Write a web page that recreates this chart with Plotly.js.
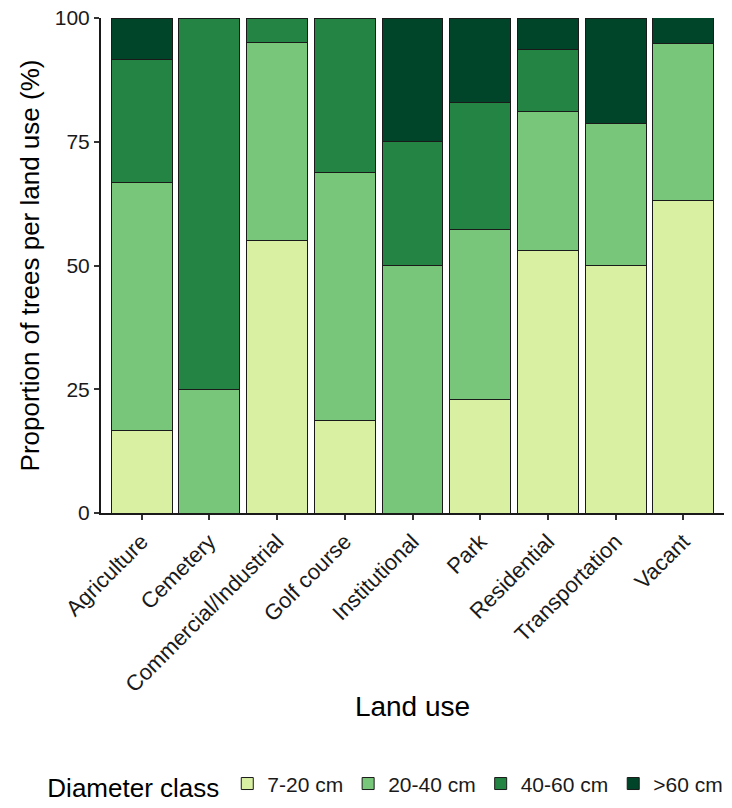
<!DOCTYPE html>
<html>
<head>
<meta charset="utf-8">
<script src="https://cdn.plot.ly/plotly-3.0.1.min.js"></script>
<style>html,body{margin:0;padding:0;background:#fff;}#chart{width:732px;height:808px;}</style>
</head>
<body>
<div id="chart"></div>
<script>
const landUse = ["Agriculture","Cemetery","Commercial/Industrial","Golf course","Institutional","Park","Residential","Transportation","Vacant"];
const classNames = ["7-20 cm","20-40 cm","40-60 cm",">60 cm"];
const d7to20  = [16.7, 0, 55, 18.75, 0, 22.9, 53.1, 50, 63.2];
const d20to40 = [50, 25, 40, 50, 50, 34.3, 28.1, 28.6, 31.6];
const d40to60 = [25, 75, 5, 31.25, 25, 25.7, 12.5, 0, 0];
const dOver60 = [8.3, 0, 0, 0, 25, 17.1, 6.3, 21.4, 5.3];
const colors = ["#d9f0a3","#78c679","#238443","#004529"];
const series = [d7to20, d20to40, d40to60, dOver60];

const traces = series.map((vals, i) => ({
  type: "bar",
  name: classNames[i],
  x: landUse,
  y: vals,
  width: 0.9,
  marker: {color: colors[i], line: {color: "#1a1a1a", width: 1}},
  hoverinfo: "x+y+name"
}));

const font = "Liberation Sans, Arial, sans-serif";
const layout = {
  width: 732, height: 808,
  margin: {l: 101, r: 8, t: 18, b: 295},
  barmode: "stack",
  bargap: 0,
  paper_bgcolor: "#fff",
  plot_bgcolor: "#fff",
  font: {family: font, color: "#1a1a1a", size: 21},
  showlegend: true,
  xaxis: {
    type: "category",
    range: [-0.6, 8.6],
    tickangle: -45,
    ticks: "outside", ticklen: 5, tickwidth: 2, tickcolor: "#333",
    showline: true, linecolor: "#1a1a1a", linewidth: 2,
    showgrid: false, zeroline: false,
    tickfont: {family: font, size: 22, color: "#1a1a1a"},
    title: {text: "Land use", font: {family: font, size: 28, color: "#000"}, standoff: 0},
    automargin: false
  },
  yaxis: {
    range: [0, 100],
    tickvals: [0, 25, 50, 75, 100],
    ticks: "outside", ticklen: 5, tickwidth: 2, tickcolor: "#333",
    showline: true, linecolor: "#1a1a1a", linewidth: 2,
    showgrid: false, zeroline: false,
    tickfont: {family: font, size: 21, color: "#1a1a1a"},
    title: {text: "Proportion of trees per land use (%)", font: {family: font, size: 26, color: "#000"}, standoff: 8},
    automargin: false
  },
  legend: {
    orientation: "h",
    x: 0.995, xanchor: "right", xref: "container",
    y: 0.028, yanchor: "middle", yref: "container",
    title: {text: "Diameter class", font: {family: font, size: 26, color: "#000"}, side: "left"},
    font: {family: font, size: 21, color: "#1a1a1a"},
    traceorder: "normal",
    itemwidth: 30
  }
};
Plotly.newPlot("chart", traces, layout, {displayModeBar: false, staticPlot: true});
</script>
</body>
</html>
